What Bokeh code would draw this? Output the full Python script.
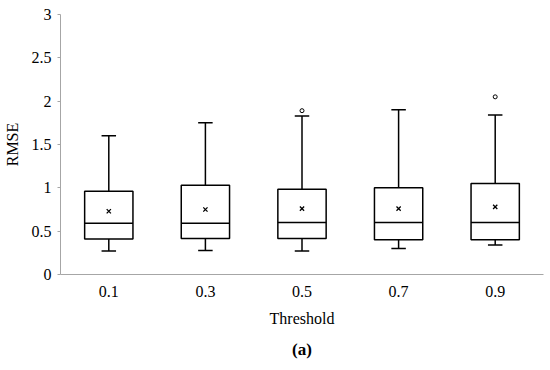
from bokeh.plotting import figure
from bokeh.models import Range1d, FactorRange, FixedTicker, Title, ColumnDataSource
from bokeh.transform import dodge
from bokeh.embed import file_html
from bokeh.resources import INLINE

categories = ["0.1", "0.3", "0.5", "0.7", "0.9"]
upper = [1.60, 1.75, 1.83, 1.90, 1.84]
q3 = [0.96, 1.03, 0.985, 1.00, 1.05]
median = [0.59, 0.59, 0.60, 0.60, 0.60]
q1 = [0.41, 0.415, 0.415, 0.40, 0.40]
lower = [0.27, 0.277, 0.27, 0.30, 0.34]
mean = [0.73, 0.75, 0.76, 0.76, 0.78]
outlier_cat = ["0.5", "0.9"]
outlier_val = [1.89, 2.05]
y_ticks = [0, 0.5, 1, 1.5, 2, 2.5, 3]
y_tick_labels = ["0", "0.5", "1", "1.5", "2", "2.5", "3"]

FONT = "Liberation Serif"

p = figure(width=545, height=366, x_range=FactorRange(*categories, range_padding=0),
           y_range=Range1d(0, 3), output_backend="svg", toolbar_location=None,
           min_border_left=57, min_border_right=2, min_border_top=14, min_border_bottom=92)
p.x_range.range_padding = 0
p.xgrid.visible = False
p.ygrid.visible = False
p.outline_line_color = None

src = ColumnDataSource(dict(cat=categories, upper=upper, q3=q3, median=median,
                            q1=q1, lower=lower, mean=mean))
LW = 1.5
# whiskers
p.segment(x0="cat", y0="q3", x1="cat", y1="upper", source=src, line_color="black", line_width=LW)
p.segment(x0="cat", y0="lower", x1="cat", y1="q1", source=src, line_color="black", line_width=LW)
p.segment(x0=dodge("cat", -0.075, range=p.x_range), y0="upper",
          x1=dodge("cat", 0.075, range=p.x_range), y1="upper", source=src, line_color="black", line_width=LW)
p.segment(x0=dodge("cat", -0.075, range=p.x_range), y0="lower",
          x1=dodge("cat", 0.075, range=p.x_range), y1="lower", source=src, line_color="black", line_width=LW)
# boxes
p.vbar(x="cat", width=0.5, bottom="q1", top="q3", source=src, fill_color="white",
       line_color="black", line_width=LW)
p.segment(x0=dodge("cat", -0.25, range=p.x_range), y0="median",
          x1=dodge("cat", 0.25, range=p.x_range), y1="median", source=src, line_color="black", line_width=LW)
# means
p.scatter(x="cat", y="mean", source=src, marker="x", size=6, line_color="black", line_width=1.3)
# outliers
p.scatter(x=outlier_cat, y=outlier_val, marker="circle", size=4, fill_color="white",
          line_color="black", line_width=1)

AX = "#a6a6a6"
for ax in (p.xaxis[0], p.yaxis[0]):
    ax.axis_line_color = AX
    ax.major_label_text_font = FONT
    ax.major_label_text_font_size = "16px"
    ax.major_label_text_color = "black"
    ax.axis_label_text_font = FONT
    ax.axis_label_text_font_size = "16px"
    ax.axis_label_text_font_style = "normal"
    ax.axis_label_text_color = "black"
    ax.minor_tick_line_color = None

p.yaxis.ticker = FixedTicker(ticks=y_ticks)
p.yaxis.major_label_overrides = {t: l for t, l in zip(y_ticks, y_tick_labels)}
p.yaxis.major_tick_line_color = AX
p.yaxis.major_tick_out = 3
p.yaxis.major_tick_in = 0
p.yaxis.major_label_standoff = 6
p.yaxis.axis_label = "RMSE"
p.yaxis.axis_label_standoff = 8

p.xaxis.major_tick_line_color = None
p.xaxis.major_tick_out = 0
p.xaxis.major_label_standoff = 11
p.xaxis.axis_label = "Threshold"
p.xaxis.axis_label_standoff = 10

p.add_layout(Title(text="(a)", align="center", text_font=FONT, text_font_size="17px",
                   text_font_style="bold", text_color="black", standoff=16), "below")

open("out.html", "w").write(file_html(p, INLINE))
